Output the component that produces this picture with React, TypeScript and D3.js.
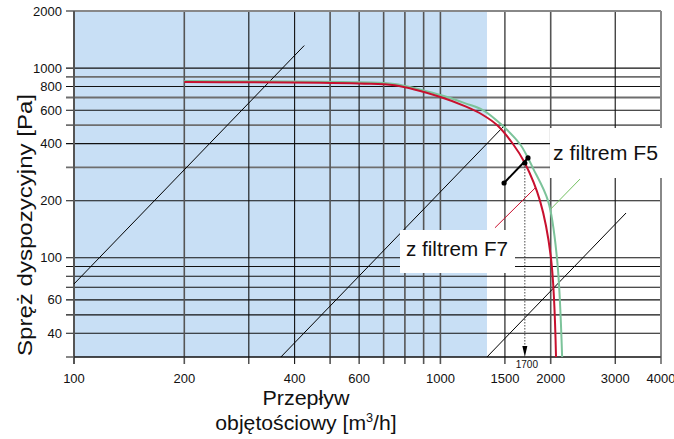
import React from 'react';
import * as d3 from 'd3';

const width = 674;
const height = 439;

// grid / axes
const flowGrid = [100, 200, 300, 400, 500, 600, 700, 800, 900, 1000, 1500, 2000, 3000, 4000];
const flowLabels = [100, 200, 400, 600, 1000, 1500, 2000, 3000, 4000];
const pressGrid = [2000, 1000, 900, 800, 700, 600, 500, 400, 300, 200, 100, 90, 80, 70, 60, 50, 40, 30];
const pressLabels = [2000, 1000, 800, 600, 400, 200, 100, 60, 40];
const pressGray = [900, 700, 500, 300];
const flowGray = [200, 500, 700, 800, 900, 1000, 2000];

// shaded working range
const shadeEnd = 1340;

// fan curves
const redFlow = [200, 600, 750, 1000, 1175, 1306, 1427, 1578, 1700, 1871, 2003, 2068];
const redPress = [845, 830, 812, 704, 626, 566, 501, 398, 316, 199, 100, 30];
const greenFlow = [200, 600, 750, 1000, 1175, 1306, 1472, 1648, 1734, 1789, 1968, 2080, 2149];
const greenPress = [855, 842, 825, 721, 650, 601, 501, 398, 336, 297, 199, 100, 30];

// system (installation) lines, p ~ Q^2
const sysStartFlow = [100, 367, 1340];
const sysStartPress = [72.8, 30, 30];
const sysEndFlow = [425, 1500, 3211];

// label pointers
const redPointerFlow = [1409, 1812];
const redPointerPress = [144, 233];
const greenPointerFlow = [1991, 2404];
const greenPointerPress = [179, 260];

// working point
const markFlow = [1492, 1700, 1734];
const markPress = [248, 316, 336];
const workFlow = 1700;

const x = d3.scaleLog().domain([100, 4000]).range([74, 661]);
const y = d3.scaleLog().domain([30, 2000]).range([357, 11]);

const curve = (fl: number[], pr: number[]) =>
    d3.line<number>()
        .x(i => x(fl[i]))
        .y(i => y(pr[i]))
        .curve(d3.curveCatmullRom.alpha(0.5))(fl.map((_, i) => i)) || '';

const font = 'Liberation Sans, Arial, Helvetica, sans-serif';

export const App = () => {
    const top = y(2000);
    const bottom = y(30);
    const left = x(100);
    const right = x(4000);
    const ax = x(workFlow);
    return (
        <svg width={width} height={height} style={{ position: 'absolute', left: 0, top: 0 }} fontFamily={font}>
            <rect width={width} height={height} fill="#fff" />
            <rect x={left} y={top} width={x(shadeEnd) - left} height={bottom - top} fill="#c8dff5" />

            {pressGrid.map(p => {
                const gray = pressGray.includes(p);
                return (
                    <line key={'h' + p} x1={66} x2={right} y1={y(p)} y2={y(p)}
                        stroke={gray ? '#6e6e6e' : '#111'} strokeWidth={gray ? 1.8 : 1.1} />
                );
            })}
            {flowGrid.map(f => {
                const gray = flowGray.includes(f);
                return (
                    <line key={'v' + f} x1={x(f)} x2={x(f)} y1={top} y2={bottom + 7}
                        stroke={gray ? '#555' : '#111'} strokeWidth={gray ? 1.6 : 1.1} />
                );
            })}
            <line x1={left} x2={right} y1={top} y2={top} stroke="#888" strokeWidth={2} />
            <line x1={right} x2={right} y1={top} y2={bottom + 7} stroke="#888" strokeWidth={2} />
            <line x1={left} x2={left} y1={top} y2={bottom + 7} stroke="#555" strokeWidth={2} />
            <line x1={left} x2={right} y1={bottom} y2={bottom} stroke="#111" strokeWidth={1.2} />

            {pressLabels.map(p => (
                <text key={'yl' + p} x={62} y={y(p) + 4.5} fontSize={13} textAnchor="end" fill="#111">{p}</text>
            ))}
            {flowLabels.map(f => (
                <text key={'xl' + f} x={x(f)} y={383} fontSize={13} textAnchor="middle" fill="#111">{f}</text>
            ))}

            {sysStartFlow.map((q0, i) => {
                const q1 = sysEndFlow[i];
                const p1 = sysStartPress[i] * (q1 / q0) ** 2;
                return (
                    <line key={'s' + i} x1={x(q0)} y1={y(sysStartPress[i])} x2={x(q1)} y2={y(p1)}
                        stroke="#000" strokeWidth={1} />
                );
            })}

            <line x1={x(redPointerFlow[0])} y1={y(redPointerPress[0])} x2={x(redPointerFlow[1])} y2={y(redPointerPress[1])}
                stroke="#c8102e" strokeWidth={1} />
            <line x1={x(greenPointerFlow[0])} y1={y(greenPointerPress[0])} x2={x(greenPointerFlow[1])} y2={y(greenPointerPress[1])}
                stroke="#72c060" strokeWidth={1} />

            <path d={curve(greenFlow, greenPress)} fill="none" stroke="#7cc39a" strokeWidth={2} />
            <path d={curve(redFlow, redPress)} fill="none" stroke="#c8102e" strokeWidth={2} />

            <line x1={ax} x2={ax} y1={y(markPress[1])} y2={bottom - 10} stroke="#333" strokeWidth={0.9} strokeDasharray="1.5,1.5" />
            <path d={`M${ax - 2.5},${bottom - 11} L${ax + 2.5},${bottom - 11} L${ax},${bottom} Z`} fill="#000" />
            <text x={ax + 2} y={368} fontSize={10} textAnchor="middle" fill="#111">{workFlow}</text>

            <line x1={x(markFlow[0])} y1={y(markPress[0])} x2={x(markFlow[2])} y2={y(markPress[2])} stroke="#000" strokeWidth={2} />
            {markFlow.map((f, i) => (
                <circle key={'m' + i} cx={x(f)} cy={y(markPress[i])} r={2.6} fill="#000" />
            ))}

            <rect x={550} y={128} width={124} height={50} fill="#fff" />
            <text x={553} y={160} fontSize={20} textLength={105} lengthAdjust="spacingAndGlyphs" fill="#111">z filtrem F5</text>
            <rect x={400} y={230} width={115} height={43} fill="#fff" />
            <text x={406} y={256} fontSize={20} textLength={102} lengthAdjust="spacingAndGlyphs" fill="#111">z filtrem F7</text>

            <text transform="translate(32,225) rotate(-90)" fontSize={21} textAnchor="middle"
                textLength={262} lengthAdjust="spacingAndGlyphs" fill="#111">Spręż dyspozycyjny [Pa]</text>
            <text x={306} y={405} fontSize={20} textAnchor="middle" textLength={87} lengthAdjust="spacingAndGlyphs" fill="#111">Przepływ</text>
            <g transform="translate(306,430) scale(1.06,1)">
                <text x={0} y={0} fontSize={20} textAnchor="middle" fill="#111">
                    objętościowy [m<tspan fontSize={12} dy={-8}>3</tspan><tspan dy={8}>/h]</tspan>
                </text>
            </g>
        </svg>
    );
};

export default App;
